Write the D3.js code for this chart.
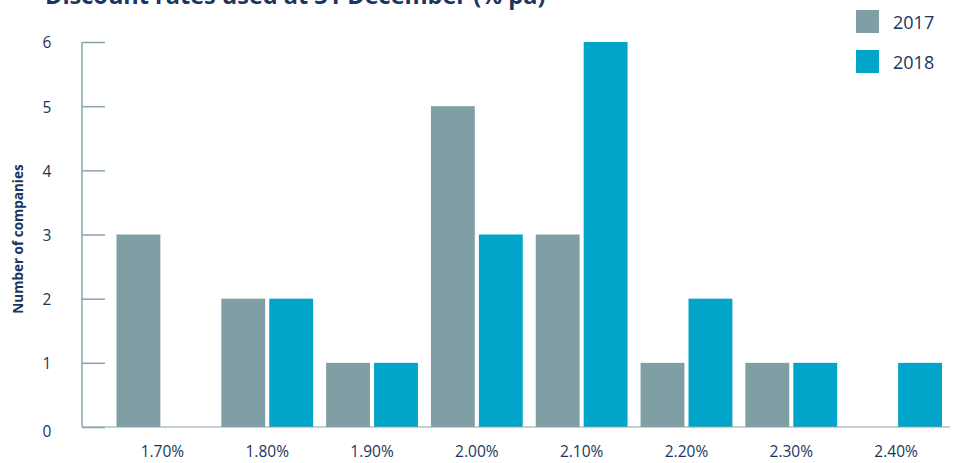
<!DOCTYPE html>
<html>
<head>
<meta charset="utf-8">
<script src="https://cdn.jsdelivr.net/npm/d3@7"></script>
<style>
  html, body { margin: 0; padding: 0; background: #fff; }
  svg { display: block; }
  text { font-family: "Open Sans", "Noto Sans", sans-serif; }
</style>
</head>
<body>
<svg id="chart" width="958" height="463"></svg>
<script>
// Discount rate buckets and number of companies using each one
const rates = ["1.70%", "1.80%", "1.90%", "2.00%", "2.10%", "2.20%", "2.30%", "2.40%"];
const years = ["2017", "2018"];
const count2017 = [3, 2, 1, 5, 3, 1, 1, 0];
const count2018 = [0, 2, 1, 3, 6, 2, 1, 1];
const yTicks = [0, 1, 2, 3, 4, 5, 6];

const colours = { "2017": "#7f9fa5", "2018": "#00a5c9" };
const navy = "#1b3560";
const axisGrey = "#86a6ab";

const svg = d3.select("#chart");

const x = d3.scaleBand().domain(rates).range([110, 948.5])
  .paddingInner(0.124).paddingOuter(0.062);
const xs = d3.scaleBand().domain(years).range([0, x.bandwidth()]).paddingInner(0.085);
const y = d3.scaleLinear().domain([0, 6]).range([427, 42]);

const table = rates.map((r, i) => ({ rate: r, values: [
  { year: "2017", v: count2017[i] },
  { year: "2018", v: count2018[i] }
]}));

// Bars
const groups = svg.append("g").selectAll("g").data(table).join("g")
  .attr("transform", d => `translate(${x(d.rate)},0)`);
groups.selectAll("rect").data(d => d.values.filter(e => e.v > 0)).join("rect")
  .attr("x", d => xs(d.year))
  .attr("width", xs.bandwidth())
  .attr("y", d => y(d.v))
  .attr("height", d => y(0) - y(d.v))
  .attr("fill", d => colours[d.year]);

// Y axis with inward ticks
const yAxis = svg.append("g").attr("transform", "translate(82,0)")
  .call(d3.axisRight(y).tickValues(yTicks).tickSize(23).tickFormat(""));
yAxis.select(".domain").remove();
yAxis.selectAll(".tick line").attr("stroke", axisGrey).attr("stroke-width", 1.5);
svg.append("line").attr("x1", 82).attr("x2", 82).attr("y1", y(6)).attr("y2", y(0))
  .attr("stroke", axisGrey).attr("stroke-width", 1.5);
svg.append("g").selectAll("text").data(yTicks).join("text")
  .attr("x", 47).attr("y", d => y(d) + (d === 0 ? 5 : 1)).attr("dy", "0.35em")
  .attr("text-anchor", "middle").attr("fill", navy).attr("font-size", 15.5)
  .text(d => d);

// X axis baseline and category labels
svg.append("line").attr("x1", 82).attr("x2", 950).attr("y1", y(0)).attr("y2", y(0))
  .attr("stroke", axisGrey).attr("stroke-width", 1.2);
const xAxis = svg.append("g").attr("transform", `translate(0,${y(0)})`)
  .call(d3.axisBottom(x).tickSize(0).tickPadding(0));
xAxis.select(".domain").remove();
xAxis.selectAll("text").attr("fill", navy).attr("font-size", 15.5)
  .attr("dy", null).attr("y", 30)
  .attr("font-family", "\"Open Sans\", \"Noto Sans\", sans-serif");

// Axis title
svg.append("text")
  .attr("transform", "translate(23,239) rotate(-90)")
  .attr("text-anchor", "middle").attr("fill", navy)
  .attr("font-family", "\"DejaVu Sans\", sans-serif")
  .attr("font-size", 13.5).attr("font-weight", "bold")
  .text("Number of companies");

// Chart title
svg.append("text")
  .attr("x", 45).attr("y", 4)
  .attr("fill", navy).attr("font-size", 23.5).attr("font-weight", "bold")
  .text("Discount rates used at 31 December (% pa)");

// Legend
const legend = svg.append("g").selectAll("g").data(years).join("g")
  .attr("transform", (d, i) => `translate(856,${10 + i * 40})`);
legend.append("rect").attr("width", 23).attr("height", 23).attr("fill", d => colours[d]);
legend.append("text").attr("x", 37).attr("y", 12.5).attr("dy", "0.35em")
  .attr("fill", navy).attr("font-size", 18).text(d => d);
</script>
</body>
</html>
